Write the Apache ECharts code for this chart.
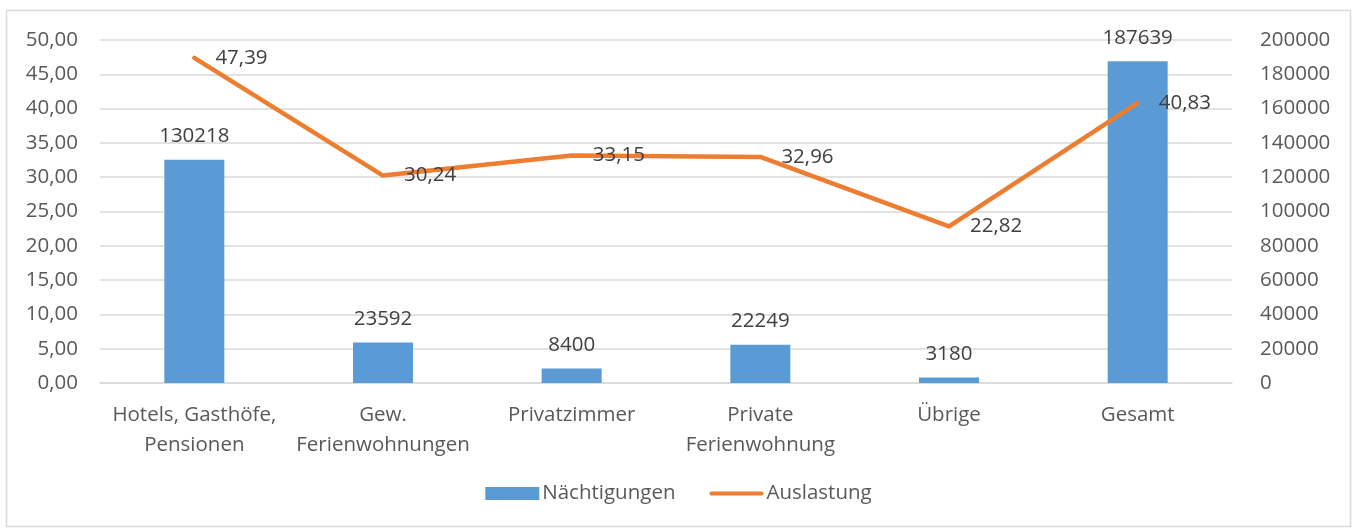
<!DOCTYPE html>
<html>
<head>
<meta charset="utf-8">
<script src="https://cdn.jsdelivr.net/npm/echarts@6/dist/echarts.min.js"></script>
<style>
  html, body { margin: 0; padding: 0; background: #fff; }
  #chart { width: 1357px; height: 529px; }
</style>
</head>
<body>
<div id="chart"></div>
<script>
const categories = [
  'Hotels, Gasthöfe,\nPensionen',
  'Gew.\nFerienwohnungen',
  'Privatzimmer',
  'Private\nFerienwohnung',
  'Übrige',
  'Gesamt'
];
const naechtigungen = [130218, 23592, 8400, 22249, 3180, 187639];
const auslastung = [47.39, 30.24, 33.15, 32.96, 22.82, 40.83];

const font = '"Open Sans", "Noto Sans", sans-serif';
const axisText = { color: '#595959', fontSize: 20.5, fontFamily: font };
const komma = v => v.toFixed(2).replace('.', ',');

const chart = echarts.init(document.getElementById('chart'));

chart.setOption({
  animation: false,
  graphic: [{
    type: 'rect',
    shape: { x: 6.5, y: 10.5, width: 1344, height: 516 },
    style: { fill: 'none', stroke: '#d9d9d9', lineWidth: 1.5 },
    silent: true
  }],
  grid: { left: 100, right: 125, top: 40, bottom: 146 },
  legend: {
    bottom: 20,
    left: 'center',
    itemWidth: 54,
    itemHeight: 13,
    itemGap: 34,
    textStyle: { color: '#595959', fontSize: 20.5, fontFamily: font, padding: [0, 0, 0, -2] },
    data: [
      { name: 'Nächtigungen', icon: 'rect' },
      { name: 'Auslastung', icon: 'path://M2,0 L52,0 A2,2 0 0 1 52,4 L2,4 A2,2 0 0 1 2,0 Z' }
    ]
  },
  xAxis: {
    type: 'category',
    data: categories,
    axisLine: { lineStyle: { color: '#d9d9d9', width: 1.5 } },
    axisTick: { show: false },
    axisLabel: { ...axisText, margin: 17, lineHeight: 30, interval: 0 }
  },
  yAxis: [
    {
      type: 'value',
      min: 0,
      max: 50,
      interval: 5,
      axisLine: { show: false },
      axisTick: { show: false },
      splitLine: { lineStyle: { color: '#d9d9d9', width: 1.5 } },
      axisLabel: { ...axisText, margin: 22, formatter: komma }
    },
    {
      type: 'value',
      min: 0,
      max: 200000,
      interval: 20000,
      axisLine: { show: false },
      axisTick: { show: false },
      splitLine: { show: false },
      axisLabel: { ...axisText, margin: 28, formatter: v => String(v) }
    }
  ],
  series: [
    {
      name: 'Nächtigungen',
      type: 'bar',
      yAxisIndex: 1,
      data: naechtigungen,
      barWidth: 60,
      itemStyle: { color: '#5b9bd5' },
      label: {
        show: true,
        position: 'top',
        distance: 13,
        color: '#404040',
        fontSize: 20.5,
        fontFamily: font
      }
    },
    {
      name: 'Auslastung',
      type: 'line',
      yAxisIndex: 0,
      data: auslastung,
      symbol: 'circle',
      symbolSize: 0.1,
      lineStyle: { color: '#ed7d31', width: 4.5, cap: 'round', join: 'round' },
      itemStyle: { color: '#ed7d31' },
      label: {
        show: true,
        position: 'right',
        distance: 21,
        color: '#404040',
        fontSize: 20.5,
        fontFamily: font,
        formatter: p => komma(p.value)
      }
    }
  ]
});
</script>
</body>
</html>
